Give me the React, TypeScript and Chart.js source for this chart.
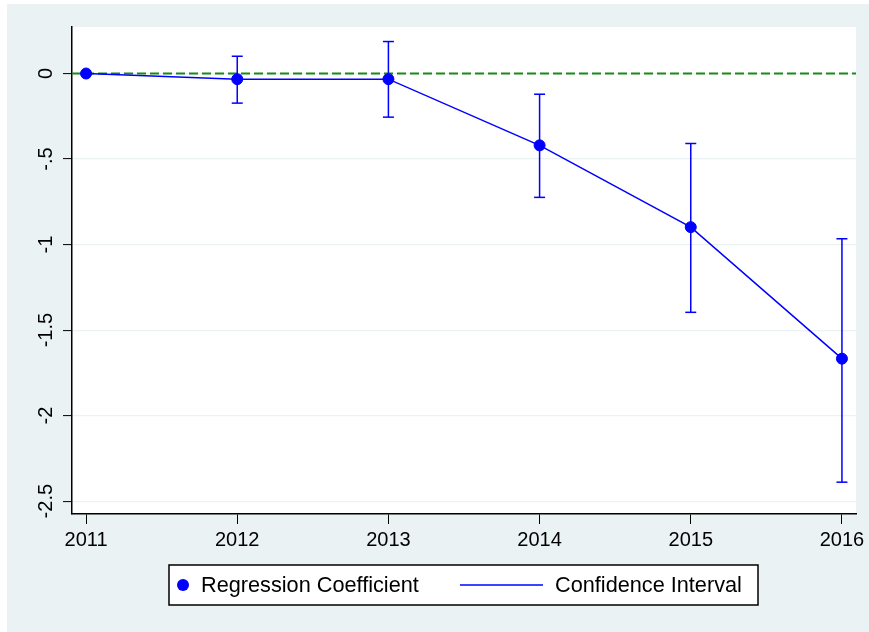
import React, { useEffect, useRef } from "react";
import { Chart, registerables } from "chart.js";

Chart.register(...registerables);

const years = [2011, 2012, 2013, 2014, 2015, 2016];
const xTickLabels = ["2011", "2012", "2013", "2014", "2015", "2016"];
const coefficients = [0, -0.033, -0.033, -0.42, -0.898, -1.667];
const ciUpper: (number | null)[] = [null, 0.101, 0.187, -0.121, -0.409, -0.966];
const ciLower: (number | null)[] = [null, -0.173, -0.255, -0.724, -1.396, -2.389];
const yTickValues = [0, -0.5, -1, -1.5, -2, -2.5];
const yTickLabels = ["0", "-.5", "-1", "-1.5", "-2", "-2.5"];
const legendLabels = ["Regression Coefficient", "Confidence Interval"];
const referenceValue = 0;

const X_MIN = 2010.907;
const X_MAX = 2016.093;
const Y_MIN = -2.575;
const Y_MAX = 0.272;

const FONT = "'Liberation Sans', Arial, sans-serif";
const BLUE = "#0000FF";
const GREEN = "#188A18";
const BG = "#EAF2F3";

export default function App() {
  const ref = useRef<HTMLCanvasElement | null>(null);

  useEffect(() => {
    const canvas = ref.current;
    if (!canvas) return;

    const coefData = years.map((x, i) => ({ x, y: coefficients[i] }));
    const ciData: { x: number; y: number | null }[] = [];
    years.forEach((x, i) => {
      const lo = ciLower[i];
      const hi = ciUpper[i];
      if (lo === null || hi === null) return;
      ciData.push({ x, y: lo }, { x, y: hi }, { x, y: null });
    });
    const refData = [
      { x: X_MIN, y: referenceValue },
      { x: X_MAX, y: referenceValue },
    ];

    const backgroundPlugin = {
      id: "bgPlugin",
      beforeDraw(chart: any) {
        const { ctx, chartArea } = chart;
        ctx.save();
        ctx.fillStyle = "#FFFFFF";
        ctx.fillRect(0, 0, chart.width, chart.height);
        ctx.fillStyle = BG;
        ctx.fillRect(7, 4, chart.width - 7, chart.height - 4);
        ctx.fillStyle = "#FFFFFF";
        ctx.fillRect(
          chartArea.left,
          chartArea.top,
          chartArea.right - chartArea.left,
          chartArea.bottom - chartArea.top
        );
        ctx.restore();
      },
    };

    const overlayPlugin = {
      id: "overlayPlugin",
      afterDraw(chart: any) {
        const { ctx } = chart;
        const yScale = chart.scales.y;
        ctx.save();
        // rotated y tick labels
        ctx.fillStyle = "#000";
        ctx.font = `20px ${FONT}`;
        ctx.textAlign = "center";
        ctx.textBaseline = "middle";
        yTickValues.forEach((v, i) => {
          const py = yScale.getPixelForValue(v);
          ctx.save();
          ctx.translate(46, py);
          ctx.rotate(-Math.PI / 2);
          ctx.fillText(yTickLabels[i], 0, 0);
          ctx.restore();
        });

        // legend
        const lx = 169, ly = 565, lw = 589, lh = 40;
        ctx.fillStyle = "#FFFFFF";
        ctx.fillRect(lx, ly, lw, lh);
        ctx.strokeStyle = "#000";
        ctx.lineWidth = 1.5;
        ctx.strokeRect(lx, ly, lw, lh);
        const cy = ly + lh / 2;
        ctx.fillStyle = BLUE;
        ctx.beginPath();
        ctx.arc(183, cy, 6, 0, Math.PI * 2);
        ctx.fill();
        ctx.fillStyle = "#000";
        ctx.font = `21.7px ${FONT}`;
        ctx.textAlign = "left";
        ctx.textBaseline = "middle";
        ctx.fillText(legendLabels[0], 201, cy + 1);
        ctx.strokeStyle = BLUE;
        ctx.lineWidth = 1.5;
        ctx.beginPath();
        ctx.moveTo(460, cy);
        ctx.lineTo(543, cy);
        ctx.stroke();
        ctx.fillText(legendLabels[1], 555, cy + 1);
        ctx.restore();
      },
    };

    const chart = new Chart(canvas, {
      type: "scatter",
      data: {
        datasets: [
          {
            label: legendLabels[0],
            data: coefData,
            showLine: true,
            borderColor: BLUE,
            backgroundColor: BLUE,
            borderWidth: 1.5,
            pointRadius: 5.5,
            pointBorderWidth: 1,
            pointBorderColor: BLUE,
            pointBackgroundColor: BLUE,
            order: 0,
          },
          {
            label: legendLabels[1],
            data: ciData as any,
            showLine: true,
            spanGaps: false,
            borderColor: BLUE,
            borderWidth: 1.5,
            pointStyle: "line",
            pointRadius: 5.5,
            pointBorderWidth: 1.5,
            pointBorderColor: BLUE,
            order: 1,
          },
          {
            label: "reference",
            data: refData,
            showLine: true,
            borderColor: GREEN,
            borderWidth: 2,
            borderDash: [9, 4],
            pointRadius: 0,
            order: 2,
          },
        ],
      },
      options: {
        animation: false,
        responsive: false,
        devicePixelRatio: 1,
        layout: { padding: { left: 7, right: 13, top: 27, bottom: 78 } },
        plugins: {
          legend: { display: false },
          tooltip: { enabled: false },
        },
        scales: {
          x: {
            type: "linear",
            min: X_MIN,
            max: X_MAX,
            afterBuildTicks: (s: any) => {
              s.ticks = years.map((v) => ({ value: v }));
            },
            afterFit: (s: any) => {
              s.height = 40;
              s.paddingLeft = 0;
              s.paddingRight = 0;
            },
            ticks: {
              autoSkip: false,
              maxRotation: 0,
              minRotation: 0,
              padding: 4,
              color: "#000",
              font: { family: FONT, size: 20 },
              callback: (_v: any, i: number) => xTickLabels[i],
            },
            grid: {
              drawOnChartArea: false,
              drawTicks: true,
              tickLength: 10,
              tickColor: "#000",
              tickWidth: 1,
            },
            border: { color: "#000", width: 1.5 },
          },
          y: {
            type: "linear",
            min: Y_MIN,
            max: Y_MAX,
            afterBuildTicks: (s: any) => {
              s.ticks = yTickValues.map((v) => ({ value: v }));
            },
            afterFit: (s: any) => {
              s.width = 65;
              s.paddingTop = 0;
              s.paddingBottom = 0;
            },
            ticks: { display: false },
            grid: {
              color: BG,
              lineWidth: 1.2,
              drawTicks: true,
              tickLength: 9,
              tickColor: "#000",
              tickWidth: 1,
            },
            border: { color: "#000", width: 1.5 },
          },
        },
      },
      plugins: [backgroundPlugin, overlayPlugin],
    } as any);

    return () => chart.destroy();
  }, []);

  return (
    <div style={{ position: "absolute", left: 0, top: 0, width: 869, height: 632 }}>
      <canvas ref={ref} width={869} height={632} style={{ display: "block" }} />
    </div>
  );
}
